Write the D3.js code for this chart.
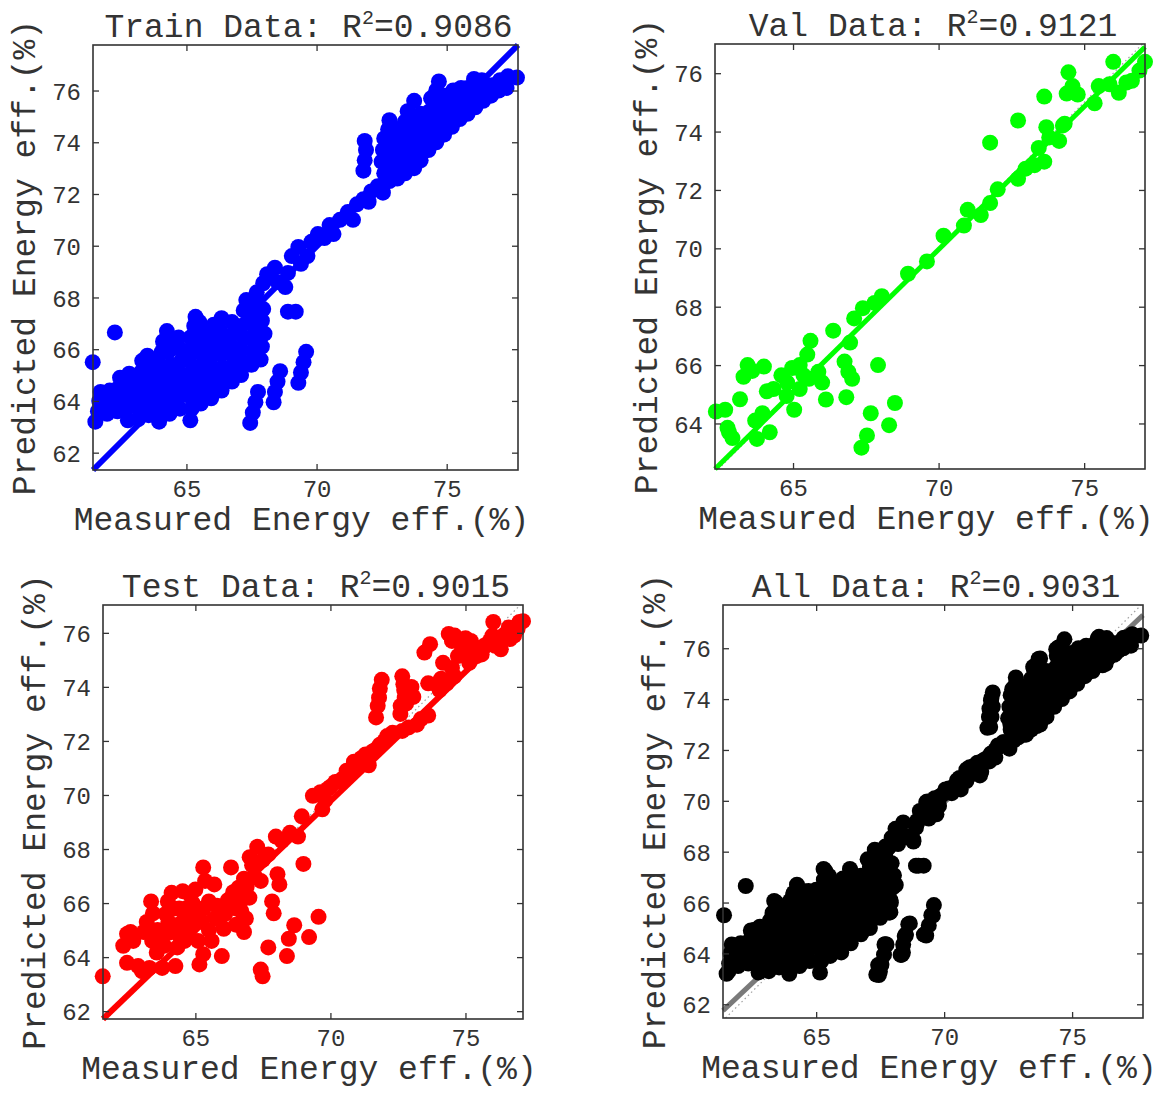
<!DOCTYPE html>
<html><head><meta charset="utf-8">
<script src="https://cdn.jsdelivr.net/npm/d3@7"></script>
<style>
body{margin:0;background:#fff;}
svg text{font-family:"Liberation Mono","DejaVu Sans Mono",monospace;fill:#333;}
</style></head><body>
<svg id="c" width="1160" height="1095"></svg>
<script>
// ---------------- data ----------------
const xTicks = [65, 70, 75];
const yTicks = [62, 64, 66, 68, 70, 72, 74, 76];
const titles = ["Train Data", "Val Data", "Test Data", "All Data"];
const r2Values = ["0.9086", "0.9121", "0.9015", "0.9031"];
const xLabel = "Measured Energy eff.(%)";
const yLabel = "Predicted Energy eff.(%)";

// axis limits [min,max]
const xDomains = [[61.41, 77.74], [62.32, 77.09], [61.58, 77.13], [61.36, 77.77]];
const yDomains = [[61.33, 77.76], [62.44, 77.0], [61.71, 77.03], [61.46, 77.7]];
// fit line end points [[x0,y0],[x1,y1]]
const fitLines = [
  [[61.41, 61.33], [77.74, 77.76]],
  [[62.32, 62.44], [77.09, 76.9]],
  [[61.58, 61.71], [77.13, 76.6]],
  [[61.36, 61.75], [77.77, 77.3]]
];

// [measured, predicted]
const trainPts = [
  [61.5,63.2],[61.6,63.6],[61.65,64.0],[61.7,64.35],
  [61.95,63.5],[62.0,63.95],[62.05,64.4],
  [62.35,63.6],[62.3,64.05],[62.4,64.5],[62.45,64.9],
  [62.75,63.25],[62.7,63.7],[62.8,64.15],[62.85,64.6],[62.8,65.05],
  [63.15,63.3],[63.1,63.75],[63.2,64.2],[63.15,64.65],[63.25,65.1],[63.3,65.55],
  [63.55,63.45],[63.5,63.9],[63.6,64.35],[63.55,64.8],[63.6,65.3],[63.5,65.75],
  [63.95,63.2],[63.9,63.65],[64.0,64.1],[63.95,64.6],[64.0,65.05],[63.9,65.5],[64.05,65.9],[64.1,66.3],
  [64.35,63.5],[64.3,64.0],[64.4,64.45],[64.35,64.95],[64.4,65.4],[64.3,65.9],[64.35,66.35],[64.25,66.7],
  [64.75,63.7],[64.7,64.15],[64.8,64.6],[64.7,65.1],[64.8,65.55],[64.75,66.0],[64.7,66.45],
  [65.15,63.25],[65.2,63.7],[65.1,64.2],[65.15,64.65],[65.2,65.1],[65.1,65.55],[65.2,66.0],[65.15,66.45],[65.3,66.9],[65.35,67.25],
  [65.55,63.9],[65.5,64.35],[65.6,64.85],[65.5,65.3],[65.6,65.8],[65.55,66.3],[65.6,66.75],[65.5,67.05],
  [65.95,64.1],[65.9,64.6],[66.0,65.05],[65.9,65.5],[66.0,66.0],[65.95,66.5],[66.05,66.95],
  [66.35,64.4],[66.3,64.85],[66.4,65.3],[66.3,65.8],[66.4,66.25],[66.3,66.7],[66.35,67.2],
  [66.75,64.75],[66.7,65.2],[66.8,65.7],[66.7,66.15],[66.8,66.6],[66.75,67.05],
  [67.1,65.0],[67.15,65.5],[67.1,66.0],[67.2,66.45],[67.1,66.9],[67.2,67.5],[67.3,67.9],
  [67.5,65.4],[67.55,65.9],[67.5,66.4],[67.6,66.85],[67.5,67.3],[67.65,67.7],
  [67.85,65.6],[67.9,66.1],[68.0,66.6],[67.9,67.1],[67.95,67.55],
  [61.4,65.5],[62.25,66.65],
  [67.45,63.15],[67.55,63.55],[67.65,63.95],[67.75,64.35],
  [68.35,63.95],[68.4,64.35],[68.5,64.75],[68.6,65.15],
  [69.3,64.7],[69.4,65.1],[69.5,65.5],[69.6,65.9],
  [68.9,67.45],[69.2,67.45],
  [67.7,68.2],[67.95,68.55],[68.1,68.9],[68.4,69.15],[68.5,68.6],[68.8,68.4],[68.9,68.95],[69.05,69.6],
  [69.3,69.95],[69.4,69.3],[69.65,69.6],[69.8,70.15],[70.05,70.45],[70.3,70.3],[70.5,70.8],[70.65,70.45],
  [70.9,71.0],[71.2,71.3],[71.4,71.0],[71.55,71.6],[71.8,71.8],[72.1,72.1],[72.0,71.7],[72.35,72.3],[72.55,72.05],
  [71.8,72.9],[71.85,73.3],[71.9,73.7],[71.85,74.05],
  [72.55,72.35],[72.6,72.8],[72.5,73.25],[72.55,73.7],[72.6,74.15],
  [72.8,72.5],[72.85,73.0],[72.8,73.5],[72.85,74.0],[72.75,74.5],[72.8,74.85],
  [73.1,72.6],[73.15,73.1],[73.1,73.6],[73.15,74.1],[73.1,74.5],
  [73.4,72.8],[73.45,73.3],[73.4,73.8],[73.45,74.3],[73.4,74.8],[73.5,75.2],
  [73.75,73.0],[73.7,73.5],[73.75,74.0],[73.7,74.5],[73.75,75.0],[73.75,75.6],
  [74.0,73.3],[74.05,73.8],[74.0,74.3],[74.05,74.8],[74.0,75.1],
  [74.3,73.7],[74.35,74.2],[74.3,74.7],[74.35,75.2],[74.4,75.7],
  [74.6,74.0],[74.65,74.5],[74.6,75.0],[74.65,75.5],[74.6,76.0],[74.7,76.35],
  [74.9,74.3],[74.95,74.8],[74.9,75.3],[74.95,75.8],
  [75.2,74.6],[75.25,75.1],[75.2,75.6],[75.25,76.0],
  [75.5,74.9],[75.55,75.4],[75.5,75.85],[75.55,76.1],
  [75.8,75.1],[75.85,75.6],[75.8,76.1],
  [76.1,75.35],[76.15,75.9],[76.05,76.45],
  [76.4,75.6],[76.45,76.0],[76.35,76.4],
  [76.7,75.8],[76.75,76.2],
  [77.0,76.0],[77.05,76.4],
  [77.3,76.1],[77.35,76.55],
  [77.7,76.5]
];

const valPts = [
  [62.35,64.41],[62.67,64.47],[63.18,64.83],[62.8,63.7],[62.92,63.5],[62.75,63.85],
  [63.3,65.6],[63.44,66.0],[63.6,65.8],[63.7,64.1],[63.76,63.47],[63.95,64.35],[64.2,63.7],
  [64.0,65.95],[64.1,65.1],[64.33,65.18],[64.6,65.65],[64.78,64.94],[64.8,65.4],[64.97,65.9],
  [65.04,64.47],[65.23,65.18],[65.23,66.0],[65.36,65.65],[65.49,66.36],[65.6,66.83],[65.55,65.53],
  [65.87,65.77],[66.0,65.4],[66.13,64.82],[66.38,67.18],[66.77,66.12],[66.9,65.77],[67.03,65.53],
  [66.83,64.9],[66.96,66.77],[67.1,67.6],[67.4,67.95],[67.8,68.13],[68.05,68.36],[67.92,66.0],
  [67.67,64.35],[67.54,63.59],[67.35,63.17],[68.3,63.94],[68.5,64.7],
  [68.95,69.13],[69.6,69.55],[70.17,70.43],[70.87,70.78],[71.0,71.32],[71.45,71.14],[71.77,71.55],
  [72.03,72.02],[71.77,73.62],[72.73,72.38],[72.73,74.38],[72.99,72.73],[73.3,72.85],[73.44,73.44],
  [73.63,72.97],[73.63,75.2],[73.7,74.15],[73.8,73.8],[74.14,73.68],[74.27,74.21],[74.46,76.03],
  [74.4,75.3],[74.6,75.56],[74.78,75.27],[74.33,74.27],[75.36,74.97],[75.5,75.56],[76.0,76.39],
  [75.87,75.62],[76.19,75.33],[76.45,75.68],[76.64,75.74],[76.9,76.09],[77.09,76.39]
];

const testPts = [
  [61.57,63.29],[62.47,64.86],[62.33,64.42],[62.6,64.93],[62.47,63.79],[62.88,63.67],[63.02,63.48],
  [63.09,64.93],[63.36,66.06],[63.43,65.62],[63.57,64.17],[63.77,63.6],[63.84,64.42],
  [63.98,66.06],[64.12,66.38],[64.26,65.18],[64.26,63.67],[64.33,64.36],
  [64.53,66.44],[64.67,65.81],[64.53,65.31],[64.81,65.05],[65.08,65.69],[65.22,65.31],
  [65.29,67.32],[65.36,66.82],[65.7,66.69],[65.15,63.73],[65.29,64.11],
  [65.5,66.06],[65.77,65.43],[66.05,65.05],[65.98,64.04],
  [66.32,67.32],[66.46,65.81],[66.6,66.57],[66.67,66.06],[66.8,64.93],[66.87,65.43],
  [67.01,67.7],[67.29,68.08],[67.42,66.82],[67.42,63.54],[67.49,63.29],
  [67.7,64.36],[67.84,66.06],[67.9,65.62],[67.98,68.46],[68.11,66.69],[68.04,67.07],
  [68.39,64.04],[68.46,64.68],[68.66,65.18],[68.8,68.46],[69.0,67.45],
  [68.94,69.21],[69.21,64.74],[69.56,65.49],[69.35,69.97],[69.63,70.1],[69.7,69.47],
  [69.9,70.22],[70.18,70.48],[70.45,70.6],[70.73,70.85],[70.87,71.23],[71.14,71.36],
  [71.42,71.1],[71.56,71.61],[71.83,71.86],[71.69,72.87],[71.83,73.94],[71.9,74.26],
  [72.1,72.18],[72.66,72.37],[72.59,73.0],[72.66,74.39],[72.73,73.88],[72.8,73.38],
  [73.07,73.63],[73.35,72.81],[73.62,72.94],[73.62,74.13],[73.48,75.27],[73.69,75.58],
  [74.04,73.88],[74.17,74.89],[74.38,75.96],[74.31,74.13],[74.59,74.39],[74.72,75.14],
  [74.86,75.52],[75.14,74.89],[75.41,75.14],[75.69,75.52],[76.03,76.4],[76.1,75.52],
  [76.31,75.39],[76.65,75.77],[76.93,76.15],[77.13,76.43],
  [63.2,65.3],[63.6,65.0],[63.9,65.6],[64.0,64.9],[64.2,65.8],[64.4,64.8],[64.6,64.6],
  [64.9,65.5],[64.9,66.0],[65.1,64.6],[65.3,65.8],[65.5,65.0],[65.6,64.6],[65.8,65.9],
  [65.9,65.4],[66.1,65.6],[66.2,66.1],[66.4,66.4],[66.5,65.2],[66.7,65.7],[66.9,66.6],
  [67.0,66.2],[67.2,67.0],[67.1,67.4],[66.8,66.9],[64.4,65.8],[64.0,65.3],[63.4,64.6],
  [63.7,64.7],[62.7,64.6],[63.3,63.6],[64.8,66.3],[65.0,66.5],
  [67.5,67.6],[67.7,67.8],[68.2,68.3],[68.5,68.6],
  [69.8,69.8],[70.0,70.3],[70.3,70.5],[70.6,70.9],[71.0,71.0],[71.3,71.5],[71.7,71.7],[72.0,72.0],
  [71.75,73.3],[71.8,73.6],[72.7,74.1],[72.75,73.6],[72.6,73.3],[73.0,74.0],
  [74.5,74.7],[74.9,75.2],[75.0,75.8],[75.3,75.5],[75.6,75.2],[75.9,75.7],[76.0,75.9],
  [76.4,75.9],[76.6,76.2],[76.8,75.9],[77.0,76.4],[75.2,75.7],[74.6,75.9],[74.5,75.7],
  [74.1,74.3],[73.9,74.1],[73.2,72.6],[72.9,72.5],[72.3,72.3]
];

// all data = train + validation + test
const allPts = trainPts.concat(valPts, testPts);

// ---------------- drawing ----------------
const seriesPts = [trainPts, valPts, testPts, allPts];
const boxes = [
  {l: 93, r: 518, t: 45, b: 470},
  {l: 715, r: 1145, t: 44, b: 469},
  {l: 103, r: 523, t: 605, b: 1019},
  {l: 723, r: 1143, t: 605, b: 1018}
];
const dotColors = ["#0000ff", "#00ff00", "#ff0000", "#000000"];
const lineColors = ["#0000ff", "#00ff00", "#ff0000", "#7a7a7a"];
const lineWidths = [6, 5, 6, 5];

const svg = d3.select("#c");

seriesPts.forEach((pts, i) => {
  const b = boxes[i];
  const xd = xDomains[i], yd = yDomains[i];
  const x = d3.scaleLinear().domain(xd).range([b.l, b.r]);
  const y = d3.scaleLinear().domain(yd).range([b.b, b.t]);
  const g = svg.append("g");

  // dotted Y = T line
  const lo = Math.max(xd[0], yd[0]), hi = Math.min(xd[1], yd[1]);
  g.append("line")
    .attr("x1", x(lo)).attr("y1", y(lo)).attr("x2", x(hi)).attr("y2", y(hi))
    .attr("stroke", "#a0a0a0").attr("stroke-width", 1.2).attr("stroke-dasharray", "1.5,3");

  // fit line
  const f = fitLines[i];
  g.append("line")
    .attr("x1", x(f[0][0])).attr("y1", y(f[0][1]))
    .attr("x2", x(f[1][0])).attr("y2", y(f[1][1]))
    .attr("stroke", lineColors[i]).attr("stroke-width", lineWidths[i]);

  // points
  g.append("g").selectAll("circle").data(pts).join("circle")
    .attr("cx", d => x(d[0])).attr("cy", d => y(d[1])).attr("r", 8)
    .attr("fill", dotColors[i]);

  // frame
  g.append("rect")
    .attr("x", b.l).attr("y", b.t).attr("width", b.r - b.l).attr("height", b.b - b.t)
    .attr("fill", "none").attr("stroke", "#333").attr("stroke-width", 1.6);

  const yt = yTicks.filter(v => v >= yd[0] && v <= yd[1]);

  const styleAxis = sel => {
    sel.select(".domain").remove();
    sel.selectAll(".tick line").attr("stroke", "#333").attr("stroke-width", 1.3);
    sel.selectAll("text").attr("font-size", 24).attr("fill", "#333");
  };

  const bottom = g.append("g").attr("transform", `translate(0,${b.b})`)
    .call(d3.axisBottom(x).tickValues(xTicks).tickSize(-6).tickFormat(d3.format("d")));
  styleAxis(bottom);
  bottom.selectAll("text").attr("dy", null).attr("y", 27);

  const top = g.append("g").attr("transform", `translate(0,${b.t})`)
    .call(d3.axisTop(x).tickValues(xTicks).tickSize(-6).tickFormat(""));
  styleAxis(top);

  const left = g.append("g").attr("transform", `translate(${b.l},0)`)
    .call(d3.axisLeft(y).tickValues(yt).tickSize(-6).tickFormat(d3.format("d")));
  styleAxis(left);
  left.selectAll("text").attr("x", -12).attr("dy", "0.36em");

  const right = g.append("g").attr("transform", `translate(${b.r},0)`)
    .call(d3.axisRight(y).tickValues(yt).tickSize(-6).tickFormat(""));
  styleAxis(right);

  const cx = (b.l + b.r) / 2, cy = (b.t + b.b) / 2;

  // title with superscript
  const t = g.append("text").attr("x", cx + 3).attr("y", b.t - 8)
    .attr("text-anchor", "middle").attr("font-size", 33);
  t.append("tspan").text(titles[i] + ": R");
  t.append("tspan").attr("font-size", 20).attr("dy", -13).text("2");
  t.append("tspan").attr("dy", 13).text("=" + r2Values[i]);

  // axis labels
  g.append("text").attr("x", cx - 4).attr("y", b.b + 60)
    .attr("text-anchor", "middle").attr("font-size", 33).text(xLabel);
  g.append("text").attr("transform", `translate(${b.l - 58},${cy}) rotate(-90)`)
    .attr("text-anchor", "middle").attr("font-size", 33).text(yLabel);
});
</script>
</body></html>
